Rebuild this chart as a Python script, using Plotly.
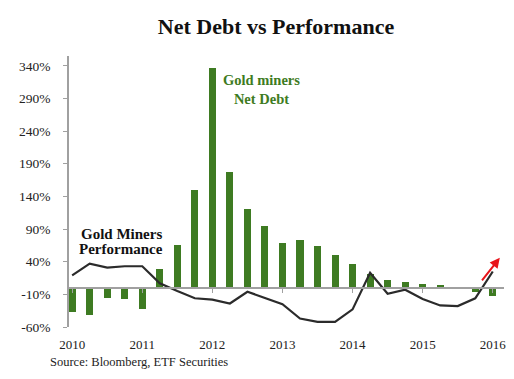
import plotly.graph_objects as go

quarters = [2010.0, 2010.25, 2010.5, 2010.75, 2011.0, 2011.25, 2011.5, 2011.75,
            2012.0, 2012.25, 2012.5, 2012.75, 2013.0, 2013.25, 2013.5, 2013.75,
            2014.0, 2014.25, 2014.5, 2014.75, 2015.0, 2015.25, 2015.5, 2015.75, 2016.0]
net_debt = [-37, -41, -16, -17, -32, 29, 66, 150,
            337, 178, 120, 94, 68, 73, 64, 51,
            36, 21, 12, 9, 6, 4, 1, -6, -12]
performance = [19, 37, 31, 33, 33, 7, -5, -16,
               -18, -24, -6, -15, -25, -47, -52, -52,
               -33, 23, -9, -3, -17, -27, -28, -16, 25]
year_ticks = [2010, 2011, 2012, 2013, 2014, 2015, 2016]
year_labels = ["2010", "2011", "2012", "2013", "2014", "2015", "2016"]
y_ticks = [-60, -10, 40, 90, 140, 190, 240, 290, 340]
y_labels = ["-60%", "-10%", "40%", "90%", "140%", "190%", "240%", "290%", "340%"]
arrow_from = (2015.83, 9)
arrow_to = (2016.1, 46)

X_RANGE = [2009.955, 2016.16]
Y_RANGE = [-60, 355]

GREEN = "#3e7b22"
SERIF = "Georgia, 'Liberation Serif', serif"

fig = go.Figure()
fig.add_trace(go.Bar(x=quarters, y=net_debt, width=0.1, marker_color=GREEN,
                     marker_line_width=0, name="Gold miners Net Debt"))
fig.add_trace(go.Scatter(x=quarters, y=performance, mode="lines", xaxis="x2",
                         line=dict(color="#2b2b2b", width=2.2),
                         name="Gold Miners Performance"))

zero_pos = (0 - Y_RANGE[0]) / (Y_RANGE[1] - Y_RANGE[0])

# page body has an 8px default margin, so the figure is 8px smaller than the window
fig.update_layout(
    width=506, height=371,
    margin=dict(l=61, r=8, t=48, b=52),
    paper_bgcolor="white", plot_bgcolor="white",
    showlegend=False,
    font=dict(family=SERIF, color="#222", size=13),
    title=dict(text="<b>Net Debt vs Performance</b>", x=0.5296, xref="container",
               xanchor="center", y=0.951, yref="container", yanchor="middle",
               font=dict(family=SERIF, size=22, color="#111")),
    xaxis=dict(range=X_RANGE, tickvals=year_ticks, ticktext=year_labels,
               showgrid=False, zeroline=False, showline=False, ticks="",
               tickfont=dict(size=13, color="#222"), ticklabelstandoff=8),
    xaxis2=dict(range=X_RANGE, overlaying="x", anchor="free", position=zero_pos,
                tickvals=year_ticks, showticklabels=False, showgrid=False,
                zeroline=False, showline=True, linecolor="#a0a0a0", linewidth=1.5,
                ticks="outside", ticklen=4, tickcolor="#a0a0a0"),
    yaxis=dict(range=Y_RANGE, tickvals=y_ticks, ticktext=y_labels,
               showgrid=False, zeroline=False, showline=True,
               linecolor="#a0a0a0", linewidth=1.5,
               ticks="outside", ticklen=4, tickcolor="#a0a0a0",
               tickfont=dict(size=13.5, color="#222"), ticklabelstandoff=10),
    bargap=0,
)

fig.add_annotation(x=2012.70, y=303, xref="x", yref="y",
                   text="<b>Gold miners<br>Net Debt</b>", showarrow=False,
                   font=dict(family=SERIF, size=14.5, color=GREEN),
                   xanchor="center", yanchor="middle", align="center")

label_lines = [
    ("<b>Gold Miners</b>", 2010.70, 82, "#111"),
    ("<b>Performance</b>", 2010.70, 60, "#111"),
]
for txt, lx, ly, col in label_lines:
    fig.add_annotation(x=lx, y=ly, xref="x", yref="y", text=txt, showarrow=False,
                       font=dict(family=SERIF, size=15, color=col),
                       xanchor="center", yanchor="middle")

fig.add_annotation(x=arrow_to[0], y=arrow_to[1], ax=arrow_from[0], ay=arrow_from[1],
                   xref="x", yref="y", axref="x", ayref="y", text="",
                   showarrow=True, arrowhead=2, arrowsize=1, arrowwidth=2,
                   arrowcolor="#e8141a")
fig.add_annotation(x=-0.048, y=-0.13, xref="paper", yref="paper",
                   text="Source: Bloomberg, ETF Securities", showarrow=False,
                   xanchor="left", yanchor="middle",
                   font=dict(family=SERIF, size=12.5, color="#222"))

fig.write_html("out.html")
